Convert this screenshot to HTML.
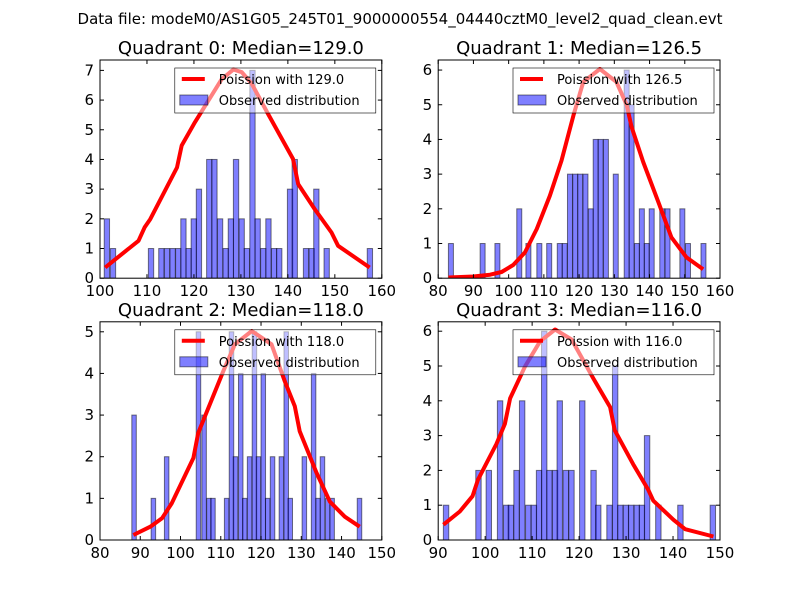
<!DOCTYPE html>
<html><head><meta charset="utf-8"><style>
body{margin:0;background:#fff;}
svg{display:block;font-family:"DejaVu Sans","Liberation Sans",sans-serif;}
</style></head><body>
<svg id="fig" width="800" height="600">
<rect width="800" height="600" fill="#fff"/>
<text x="400" y="24" text-anchor="middle" font-size="15">Data file: modeM0/AS1G05_245T01_9000000554_04440cztM0_level2_quad_clean.evt</text>
</svg>
<script>
// Quadrant 0
const q0BinLeft=[100.9,102.2,110.3,112.5,113.7,114.9,116.1,117.2,118.3,119.4,120.5,122.7,123.8,125,126.2,127.3,128.4,129.6,130.7,131.9,133,134.2,135.3,136.5,137.6,139.9,140.9,143.3,144.5,145.5,147.7,156.9];
const q0Counts=[2,1,1,1,1,1,1,2,1,2,3,4,4,2,1,2,4,2,1,7,2,1,2,1,1,3,4,1,1,3,1,1];
const q0CurveX=[101.1,103.3,108.2,109.5,110.7,116.4,117.4,120.2,125.9,128.4,130.2,132.3,135.8,141.1,142.2,145.7,149.3,150.7,157.4];
const q0CurveY=[0.36,0.64,1.26,1.71,1.99,3.73,4.47,5.25,6.7,7.03,6.94,6.55,5.53,4.02,3.17,2.33,1.54,1.09,0.36];
// Quadrant 1
const q1BinLeft=[82.9,91.9,96.1,102.3,104.9,108,110.8,113.8,115.2,116.7,118.2,119.6,121.1,122.6,124,125.4,126.9,129.7,132.8,134.2,135.7,137.1,138.5,139.9,142.9,144.4,148.6,150.2,154.6];
const q1Counts=[1,1,1,2,1,1,1,1,1,3,3,3,3,2,4,4,4,3,6,5,1,2,1,2,2,2,2,1,1];
const q1CurveX=[82.9,90,94.7,98,101.3,104.6,108,111.7,115,118.4,121.2,125.9,130.6,133.5,134.9,138.2,142.5,146.2,150.5,155.2];
const q1CurveY=[0.02,0.05,0.1,0.18,0.38,0.74,1.42,2.38,3.39,4.7,5.66,6.03,5.66,4.99,4.36,3.35,2.19,1.18,0.6,0.26];
// Quadrant 2
const q2BinLeft=[87.9,92.7,96,103.9,105.3,106.5,107.5,110.9,112.1,113.1,114.4,115.4,116.6,117.8,118.8,120,121.1,122.3,124.5,125.7,126.7,130.2,132.5,133.6,134.7,136,137.1,143.9];
const q2Counts=[3,1,2,5,3,1,1,1,5,2,4,1,2,5,2,4,1,2,2,5,1,2,4,1,2,1,1,1];
const q2CurveX=[88.3,92.5,95.4,97.8,103.2,104.4,110.6,113.5,117.7,122.6,125.9,128.4,129.6,133.8,137.1,140.8,144.5];
const q2CurveY=[0.12,0.32,0.52,0.88,1.97,2.57,4.05,4.7,5.02,4.7,3.81,3.21,2.61,1.61,0.92,0.56,0.32];
// Quadrant 3
const q3BinLeft=[91.1,98,100.2,102.6,103.9,104.9,106.1,107.3,108.6,109.8,110.9,112,113.1,114.3,115.3,116.6,117.8,120.1,122.5,123.5,125.9,127.1,128.2,129.4,130.5,131.7,132.8,133.9,136.3,141,147.9];
const q3Counts=[1,2,2,4,1,1,2,4,1,1,2,6,2,2,4,2,2,4,2,1,1,5,1,1,1,1,1,3,1,1,1];
const q3CurveX=[91.1,94.6,97.3,98.5,102.4,104.2,105.3,108.5,111.7,114.9,118.4,123,126.6,127.6,131.5,134.7,135.8,140.1,142.6,148.6];
const q3CurveY=[0.44,0.82,1.26,1.74,2.76,3.34,4.07,4.99,5.71,6.05,5.76,4.65,3.82,3.15,2.18,1.45,1.13,0.58,0.31,0.1];
const titles=["Quadrant 0: Median=129.0","Quadrant 1: Median=126.5","Quadrant 2: Median=118.0","Quadrant 3: Median=116.0"];
const medians=["129.0","126.5","118.0","116.0"];
const xTicks=[[100,110,120,130,140,150,160],[80,90,100,110,120,130,140,150,160],[80,90,100,110,120,130,140,150],[90,100,110,120,130,140,150]];
const yTicks=[[0,1,2,3,4,5,6,7],[0,1,2,3,4,5,6],[0,1,2,3,4,5],[0,1,2,3,4,5,6]];

const NS="http://www.w3.org/2000/svg";
const fig=document.getElementById('fig');
function mk(tag,attrs,parent){const e=document.createElementNS(NS,tag);for(const k in attrs)e.setAttribute(k,attrs[k]);(parent||fig).appendChild(e);return e;}
const panels=[
 {l:100,r:381.8,t:60,b:278.2,xmin:100,xmax:160,ymax:7.35,bw:1.13,bins:q0BinLeft,cnt:q0Counts,cx:q0CurveX,cy:q0CurveY},
 {l:438.2,r:720,t:60,b:278.2,xmin:80,xmax:160,ymax:6.29,bw:1.42,bins:q1BinLeft,cnt:q1Counts,cx:q1CurveX,cy:q1CurveY},
 {l:100,r:381.8,t:321.8,b:540,xmin:80,xmax:150,ymax:5.24,bw:1.12,bins:q2BinLeft,cnt:q2Counts,cx:q2CurveX,cy:q2CurveY},
 {l:438.2,r:720,t:321.8,b:540,xmin:90,xmax:150,ymax:6.27,bw:1.15,bins:q3BinLeft,cnt:q3Counts,cx:q3CurveX,cy:q3CurveY}
];
panels.forEach((p,i)=>{
 const g=mk('g',{});
 
 
 const X=v=>p.l+(v-p.xmin)/(p.xmax-p.xmin)*(p.r-p.l);
 const Y=v=>p.b-v/p.ymax*(p.b-p.t);
 const clip=mk('clipPath',{id:'c'+i},g);mk('rect',{x:p.l,y:p.t,width:p.r-p.l,height:p.b-p.t},clip);
 const bars=mk('g',{'clip-path':'url(#c'+i+')'},g);
 p.bins.forEach((b,j)=>{
  const r=mk('rect',{x:X(b),y:Y(p.cnt[j]),width:X(b+p.bw)-X(b),height:p.b-Y(p.cnt[j]),fill:'rgba(0,0,255,0.5)',stroke:'rgba(0,0,0,0.5)','stroke-width':1},bars);
  
  
 });
 const pts=p.cx.map((v,j)=>X(v).toFixed(1)+','+Y(p.cy[j]).toFixed(1)).join(' ');
 const line=mk('polyline',{points:pts,fill:'none',stroke:'#ff0000','stroke-width':4,'stroke-linejoin':'round'},bars);
 
 
 // legend
 const lg=mk('g',{},g);
 
 
 const lx=p.r-207,ly=p.t+8;
 mk('rect',{x:lx,y:ly,width:201,height:45,fill:'rgba(255,255,255,0.5)',stroke:'#000','stroke-width':0.6},lg);
 mk('line',{x1:lx+7,y1:ly+11,x2:lx+30,y2:ly+11,stroke:'#ff0000','stroke-width':4},lg);
 const t1=mk('text',{x:lx+44,y:ly+16,'font-size':13},lg);t1.textContent='Poission with '+medians[i];
 mk('rect',{x:lx+5,y:ly+27,width:28,height:10,fill:'rgba(0,0,255,0.5)',stroke:'rgba(0,0,0,0.5)'},lg);
 const t2=mk('text',{x:lx+44,y:ly+37,'font-size':13},lg);t2.textContent='Observed distribution';
 // frame
 mk('rect',{x:p.l,y:p.t,width:p.r-p.l,height:p.b-p.t,fill:'none',stroke:'#000','stroke-width':1},g);
 xTicks[i].forEach(v=>{
  const x=X(v);
  mk('line',{x1:x,y1:p.b,x2:x,y2:p.b-4,stroke:'#000'},g);
  mk('line',{x1:x,y1:p.t,x2:x,y2:p.t+4,stroke:'#000'},g);
  const t=mk('text',{x:x,y:p.b+18,'text-anchor':'middle','font-size':15},g);t.textContent=v;
 });
 yTicks[i].forEach(v=>{
  const y=Y(v);
  mk('line',{x1:p.l,y1:y,x2:p.l+4,y2:y,stroke:'#000'},g);
  mk('line',{x1:p.r,y1:y,x2:p.r-4,y2:y,stroke:'#000'},g);
  const t=mk('text',{x:p.l-6,y:y+5,'text-anchor':'end','font-size':15},g);t.textContent=v;
 });
 const tt=mk('text',{x:(p.l+p.r)/2,y:p.t-6,'text-anchor':'middle','font-size':18},g);
 tt.textContent=titles[i];
 
 
});
</script>
</body></html>
